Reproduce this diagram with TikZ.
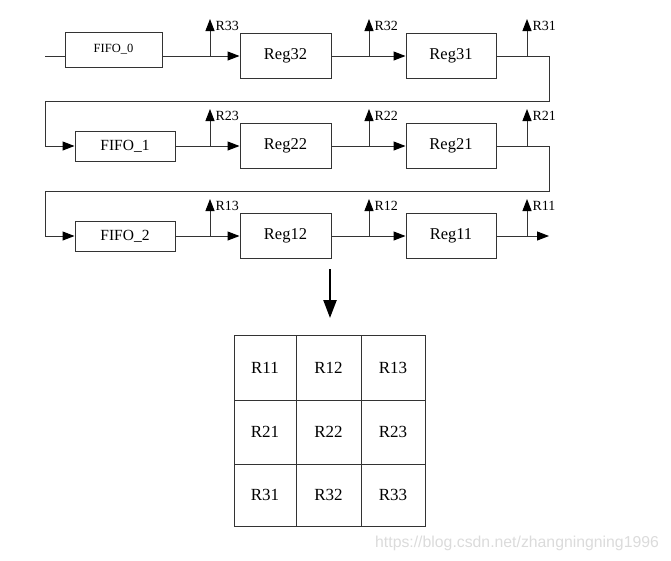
\documentclass[tikz,border=0pt]{standalone}
\usepackage{fontspec}
\setmainfont{Liberation Serif}
\newfontfamily\wmfont{Liberation Sans}
\usetikzlibrary{arrows.meta}
\tikzset{
  ln/.style={draw=black!80, line width=1pt},
  arr/.style={ln, -{Triangle[length=12pt,width=9pt,fill=black,color=black]}},
  box/.style={ln, rectangle, inner sep=0pt, font=\fontsize{15.5}{17}\selectfont},
  lbl/.style={anchor=north west, inner sep=0pt, xshift=5pt, yshift=-2pt, font=\fontsize{14}{16}\selectfont},
  cell/.style={ln, rectangle, inner sep=0pt, font=\fontsize{17}{19}\selectfont},
  regf/.style={font=\fontsize{16.5}{18}\selectfont},
}
\begin{document}
\begin{tikzpicture}[x=1pt,y=-1pt]
\useasboundingbox (0,0) rectangle (671,560);
% boxes
\node[box, minimum width=97pt, minimum height=35pt, font=\fontsize{12.5}{14}\selectfont] (f0) at (113.5,49.5) {FIFO\_0};
\node[box, regf, minimum width=91pt, minimum height=45pt] (r32) at (285.5,55.5) {Reg32};
\node[box, regf, minimum width=90pt, minimum height=45pt] (r31) at (451,55.5) {Reg31};
\node[box, minimum width=100pt, minimum height=30pt] (f1) at (125,146) {FIFO\_1};
\node[box, regf, minimum width=91pt, minimum height=45pt] (r22) at (285.5,145.5) {Reg22};
\node[box, regf, minimum width=90pt, minimum height=45pt] (r21) at (451,145.5) {Reg21};
\node[box, minimum width=100pt, minimum height=30pt] (f2) at (125,236) {FIFO\_2};
\node[box, regf, minimum width=91pt, minimum height=45pt] (r12) at (285.5,235.5) {Reg12};
\node[box, regf, minimum width=90pt, minimum height=45pt] (r11) at (451,235.5) {Reg11};
% coordinates
\coordinate (s0) at (45,56);
\coordinate (t33) at (210,56);  \coordinate (e33) at (210,19);
\coordinate (t32) at (369,56);  \coordinate (e32) at (369,19);
\coordinate (t31) at (527,56);  \coordinate (e31) at (527,19);
\coordinate (a1) at (549,56); \coordinate (a2) at (549,101); \coordinate (a3) at (45,101); \coordinate (a4) at (45,146);
\coordinate (t23) at (210,146); \coordinate (e23) at (210,109);
\coordinate (t22) at (369,146); \coordinate (e22) at (369,109);
\coordinate (t21) at (527,146); \coordinate (e21) at (527,109);
\coordinate (b1) at (549,146); \coordinate (b2) at (549,191); \coordinate (b3) at (45,191); \coordinate (b4) at (45,236);
\coordinate (t13) at (210,236); \coordinate (e13) at (210,199);
\coordinate (t12) at (369,236); \coordinate (e12) at (369,199);
\coordinate (t11) at (527,236); \coordinate (e11) at (527,199);
\coordinate (out) at (549,236);
% row 1
\draw[ln] (s0) -- (s0 -| f0.west);
\draw[arr] (f0.east |- s0) -- (r32.west |- s0);
\draw[arr] (r32.east |- s0) -- (r31.west |- s0);
\draw[ln] (r31.east |- s0) -- (a1) -- (a2) -- (a3) -- (a4);
\draw[arr] (a4) -- (f1.west);
\draw[arr] (t33) -- (e33) node[lbl] {R33};
\draw[arr] (t32) -- (e32) node[lbl] {R32};
\draw[arr] (t31) -- (e31) node[lbl] {R31};
% row 2
\draw[arr] (f1.east) -- (r22.west |- f1.east);
\draw[arr] (r22.east |- f1.east) -- (r21.west |- f1.east);
\draw[ln] (r21.east |- f1.east) -- (b1) -- (b2) -- (b3) -- (b4);
\draw[arr] (b4) -- (f2.west);
\draw[arr] (t23) -- (e23) node[lbl] {R23};
\draw[arr] (t22) -- (e22) node[lbl] {R22};
\draw[arr] (t21) -- (e21) node[lbl] {R21};
% row 3
\draw[arr] (f2.east) -- (r12.west |- f2.east);
\draw[arr] (r12.east |- f2.east) -- (r11.west |- f2.east);
\draw[arr] (r11.east |- f2.east) -- (out);
\draw[arr] (t13) -- (e13) node[lbl] {R13};
\draw[arr] (t12) -- (e12) node[lbl] {R12};
\draw[arr] (t11) -- (e11) node[lbl] {R11};
% down arrow
\coordinate (d0) at (330,269); \coordinate (d1) at (330,318);
\draw[draw=black, line width=2.4pt, -{Triangle[length=18pt,width=13pt]}] (d0) -- (d1);
% grid
\node[cell, minimum width=62pt, minimum height=65pt] (g11) at (265,367.5) {R11};
\node[cell, minimum width=65pt, minimum height=65pt] (g12) at (328.5,367.5) {R12};
\node[cell, minimum width=64pt, minimum height=65pt] (g13) at (393,367.5) {R13};
\node[cell, minimum width=62pt, minimum height=64pt] (g21) at (265,432) {R21};
\node[cell, minimum width=65pt, minimum height=64pt] (g22) at (328.5,432) {R22};
\node[cell, minimum width=64pt, minimum height=64pt] (g23) at (393,432) {R23};
\node[cell, minimum width=62pt, minimum height=62pt] (g31) at (265,495) {R31};
\node[cell, minimum width=65pt, minimum height=62pt] (g32) at (328.5,495) {R32};
\node[cell, minimum width=64pt, minimum height=62pt] (g33) at (393,495) {R33};
% watermark
\node[anchor=west, inner sep=0pt, text=black!14, font=\wmfont\fontsize{15.8}{17}\selectfont] (wm) at (375,543) {https://blog.csdn.net/zhangningning1996};
\end{tikzpicture}
\end{document}
